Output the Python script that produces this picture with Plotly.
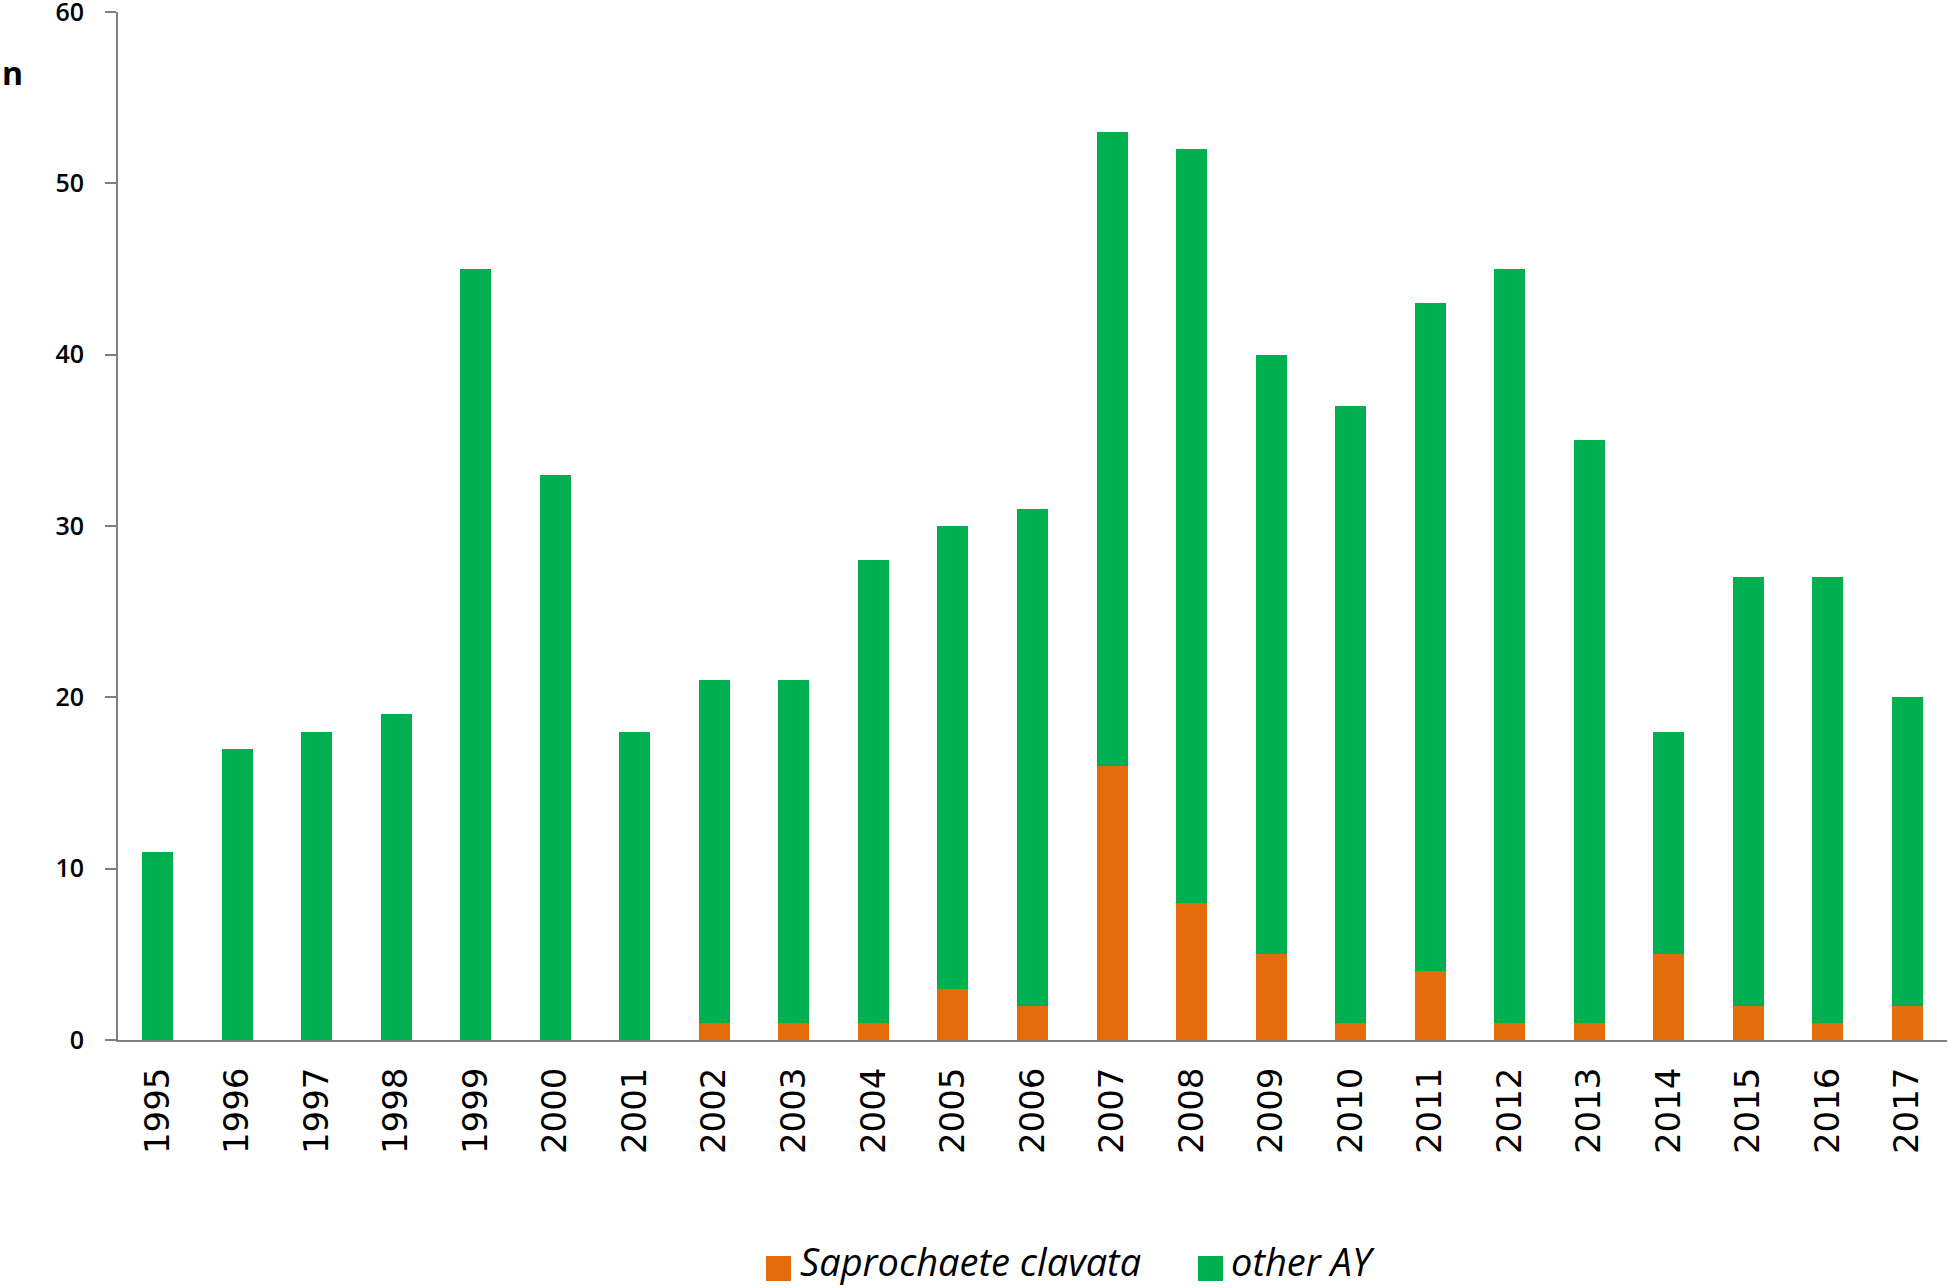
import plotly.graph_objects as go

# Yearly counts
years = [str(y) for y in range(1995, 2018)]
total_counts = [11, 17, 18, 19, 45, 33, 18, 21, 21, 28, 30, 31, 53, 52, 40, 37, 43, 45, 35, 18, 27, 27, 20]
saprochaete = [0, 0, 0, 0, 0, 0, 0, 1, 1, 1, 3, 2, 16, 8, 5, 1, 4, 1, 1, 5, 2, 1, 2]
other_ay = [t - s for t, s in zip(total_counts, saprochaete)]
series_names = ["Saprochaete clavata", "other AY"]

ORANGE = "#E46C0A"
GREEN = "#00B050"
AXIS = "#808080"

W, H = 1950, 1288
L, R, T, B = 118, 3, 12, 248
plot_w = W - L - R
plot_h = H - T - B

fig = go.Figure()
fig.add_trace(go.Bar(x=years, y=saprochaete, name=series_names[0],
                     marker=dict(color=ORANGE, line=dict(width=0))))
fig.add_trace(go.Bar(x=years, y=other_ay, name=series_names[1],
                     marker=dict(color=GREEN, line=dict(width=0))))

fig.update_layout(
    barmode="stack",
    bargap=0.61,
    width=W,
    height=H,
    margin=dict(l=L, r=R, t=T, b=B),
    plot_bgcolor="white",
    paper_bgcolor="white",
    font=dict(family="DejaVu Sans", color="black"),
    showlegend=False,
)

fig.update_xaxes(
    type="category",
    showline=True, linecolor=AXIS, linewidth=2,
    ticks="", tickangle=-90,
    tickfont=dict(family="DejaVu Sans", size=34),
    ticklabelstandoff=12,
    showgrid=False,
    automargin=False,
)
fig.update_yaxes(
    range=[0, 60], dtick=10,
    showline=True, linecolor=AXIS, linewidth=2,
    ticks="outside", ticklen=11, tickcolor=AXIS, tickwidth=2,
    tickfont=dict(family="Open Sans", size=25, weight=600),
    ticklabelstandoff=16,
    ticklabeloverflow="allow",
    showgrid=False, zeroline=False,
    automargin=False,
)

# y-axis label "n" in the top-left corner
fig.add_annotation(
    text="<b>n</b>", xref="paper", yref="paper",
    x=0, xshift=-L, xanchor="left",
    y=0.9407, yanchor="middle",
    showarrow=False,
    font=dict(family="Open Sans", size=32, color="black"),
)


# legend drawn below the plot with big square keys (pixel positions -> paper)
def px_x(p):
    return (p - L) / plot_w


def px_y(p):
    return (H - B - p) / plot_h


legend_items = [(series_names[0], ORANGE, 766, 798), (series_names[1], GREEN, 1198, 1229)]
for name, color, key_left, text_left in legend_items:
    fig.add_shape(type="rect", xref="paper", yref="paper",
                  x0=px_x(key_left), x1=px_x(key_left + 25),
                  y0=px_y(1281), y1=px_y(1256),
                  fillcolor=color, line=dict(width=0))
    fig.add_annotation(text=name, xref="paper", yref="paper",
                       x=px_x(text_left), xanchor="left",
                       y=px_y(1261), yanchor="middle",
                       showarrow=False,
                       font=dict(family="Open Sans", size=38, style="italic", color="black"))

fig.write_html("out.html", config={"displayModeBar": False},
               post_script="document.body.style.margin='0px';")
